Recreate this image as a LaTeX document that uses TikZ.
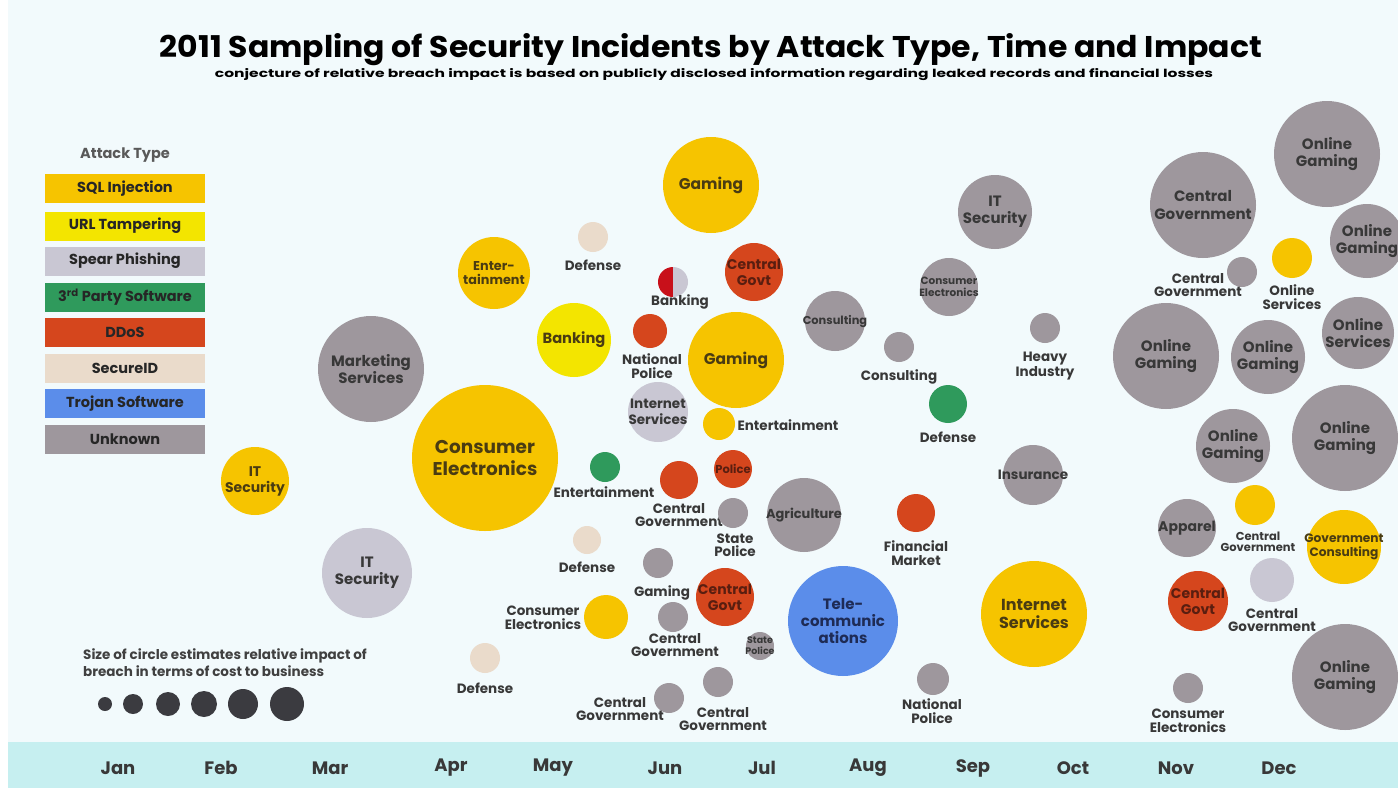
\documentclass[tikz,border=0pt]{standalone}
\usepackage{fontspec}
\setmainfont{Poppins}
\usepackage{graphicx}

\definecolor{bgc}{HTML}{F2FAFC}
\definecolor{barc}{HTML}{C6EFF0}
\definecolor{sqlc}{HTML}{F6C400}
\definecolor{urlc}{HTML}{F3E500}
\definecolor{spc}{HTML}{C9C7D3}
\definecolor{tpc}{HTML}{2F9A5C}
\definecolor{ddc}{HTML}{D5461D}
\definecolor{sidc}{HTML}{EADBCB}
\definecolor{trc}{HTML}{5B8DEA}
\definecolor{unc}{HTML}{9E979D}
\definecolor{bankred}{HTML}{C8101A}
\definecolor{dotc}{HTML}{3B3B40}
\definecolor{txt}{HTML}{383838}
\definecolor{sqtxt}{HTML}{4A3C12}
\definecolor{ddtxt}{HTML}{5A1E10}
\definecolor{trtxt}{HTML}{1E2B55}

\begin{document}
\begin{tikzpicture}[x=1pt,y=-1pt,
  bub/.style={circle, inner sep=0pt, outer sep=0pt},
  rad/.style={minimum size={2*#1}},
  sq/.style={bub, fill=sqlc},
  ur/.style={bub, fill=urlc},
  sp/.style={bub, fill=spc},
  tp/.style={bub, fill=tpc},
  dd/.style={bub, fill=ddc},
  sid/.style={bub, fill=sidc},
  tr/.style={bub, fill=trc},
  un/.style={bub, fill=unc},
  % outside labels (tight leading)
  lt/.style={align=center, inner sep=0pt, text=txt,
    font=\bfseries\linespread{1.0}\fontsize{#1}{#1}\selectfont},
  % text set inside a bubble
  bt/.style={align=center, inner sep=0pt, text=txt,
    font=\bfseries\linespread{1.15}\fontsize{#1}{#1}\selectfont},
  tsq/.style={text=sqtxt},
  tdd/.style={text=ddtxt},
  ttr/.style={text=trtxt},
  lgbox/.style={minimum width=160, minimum height=29, inner sep=0pt,
    text=black!85, font=\bfseries\fontsize{14.5}{14.5}\selectfont},
  month/.style={text=txt, font=\bfseries\fontsize{18}{18}\selectfont},
  dot/.style={circle, fill=dotc, inner sep=0pt, minimum size={2*#1}}
]
% canvas and timeline band
\fill[bgc] (0,0) rectangle (1398,788);
\useasboundingbox (0,0) rectangle (1398,788);
\clip (0,0) rectangle (1398,788);
\fill[white] (0,0) rectangle (8,788);
\fill[barc] (8,742) rectangle (1398,788);

% title block
\node[anchor=base, inner sep=0pt] (title) at (711,57)
  {\resizebox{1102pt}{24pt}{\bfseries 2011 Sampling of Security Incidents by Attack Type, Time and Impact}};
\node[anchor=base, inner sep=0pt] (subtitle) at (714,77)
  {\resizebox{998pt}{9pt}{\bfseries conjecture of relative breach impact is based on publicly disclosed information regarding leaked records and financial losses}};

% attack type legend
\node[text=black!65, font=\bfseries\fontsize{14.5}{14.5}\selectfont] (lgtitle) at (125,155) {Attack Type};
\node[lgbox, fill=sqlc] (lg1) at (125,188.5) {SQL Injection};
\node[lgbox, fill=urlc] (lg2) at (125,226) {URL Tampering};
\node[lgbox, fill=spc]  (lg3) at (125,261) {Spear Phishing};
\node[lgbox, fill=tpc]  (lg4) at (125,297) {3\textsuperscript{rd} Party Software};
\node[lgbox, fill=ddc]  (lg5) at (125,332.5) {DDoS};
\node[lgbox, fill=sidc] (lg6) at (125,368) {SecureID};
\node[lgbox, fill=trc]  (lg7) at (125,403.5) {Trojan Software};
\node[lgbox, fill=unc]  (lg8) at (125,439) {Unknown};

% size legend
\node[anchor=west, inner sep=0pt, text=black!75, align=left,
      font=\bfseries\fontsize{13.5}{17}\selectfont] (sizetxt) at (83,663)
  {Size of circle estimates relative impact of\\breach in terms of cost to business};
\node[dot=7]  (s1) at (105,704) {};
\node[dot=10] (s2) at (133,704) {};
\node[dot=12] (s3) at (168,704) {};
\node[dot=13] (s4) at (204,704) {};
\node[dot=15] (s5) at (243,704) {};
\node[dot=17] (s6) at (287,704) {};

% months
\node[month] (jan) at (118,768) {Jan};
\node[month] (feb) at (221,768) {Feb};
\node[month] (mar) at (330,768) {Mar};
\node[month] (apr) at (451,768) {Apr};
\node[month] (may) at (553,768) {May};
\node[month] (jun) at (665,768) {Jun};
\node[month] (jul) at (762,768) {Jul};
\node[month] (aug) at (868,768) {Aug};
\node[month] (sep) at (973,768) {Sep};
\node[month] (oct) at (1073,768) {Oct};
\node[month] (nov) at (1176,768) {Nov};
\node[month] (dec) at (1279,768) {Dec};

% ---- SQL injection
\node[sq, rad=34, label={[bt=14, tsq]center:{IT\\Security}}] (its1) at (255,481) {};
\node[sq, rad=73, label={[bt=18.5, tsq]center:{Consumer\\Electronics}}] (ce1) at (485,458) {};
\node[sq, rad=36, label={[bt=12.8, tsq]center:{Enter-\\tainment}}] (ent1) at (494,273) {};
\node[sq, rad=48, label={[bt=15.5, tsq]center:{Gaming}}] (gam1) at (711,185) {};
\node[sq, rad=48, label={[bt=15.5, tsq]center:{Gaming}}] (gam2) at (736,360) {};
\node[sq, rad=16] (ent2) at (719,424) {};
\node[lt=13.5] (ent2l) at (788,425) {Entertainment};
\node[sq, rad=22] (ce2) at (606,617) {};
\node[lt=13.5] (ce2l) at (543,618) {Consumer\\Electronics};
\node[sq, rad=53, label={[bt=16, tsq]center:{Internet\\Services}}] (is2) at (1034,614) {};
\node[sq, rad=20] (os1) at (1292,258) {};
\node[lt=13.5] (os1l) at (1292,297) {Online\\Services};
\node[sq, rad=20] (cgs) at (1255,505) {};
\node[lt=11.5] (cgsl) at (1258,542) {Central\\Government};
\node[sq, rad=37, label={[bt=12.2, tsq]center:{Government\\Consulting}}] (gc) at (1344,547) {};

% ---- URL tampering
\node[ur, rad=37, label={[bt=14.7, tsq]center:{Banking}}] (bank1) at (574,340) {};

% ---- spear phishing
\node[sp, rad=45, label={[bt=15]center:{IT\\Security}}] (its2) at (367,573) {};
\node[sp, rad=30, label={[bt=13.5]center:{Internet\\Services}}] (is1) at (658,412) {};
\node[sp, rad=22] (cgsp) at (1272,580) {};
\node[lt=13.5] (cgspl) at (1272,620) {Central\\Government};

% half DDoS / half spear phishing
\node[bub, rad=15] (bank2) at (673,282) {};
\fill[bankred] (bank2.south) arc (90:270:15) -- cycle;
\fill[spc] (bank2.north) arc (-90:90:15) -- cycle;
\node[lt=13.5] (bank2l) at (680,302) {Banking};

% ---- 3rd party software
\node[tp, rad=15] (ent3) at (605,467) {};
\node[lt=13.5] (ent3l) at (604,492) {Entertainment};
\node[tp, rad=19] (def3) at (948,404) {};
\node[lt=13.5] (def3l) at (948,437) {Defense};

% ---- DDoS
\node[dd, rad=29, label={[bt=14, tdd]center:{Central\\Govt}}] (cgv1) at (754,272) {};
\node[dd, rad=17] (np1) at (650,331) {};
\node[lt=13.5] (np1l) at (652,366) {National\\Police};
\node[dd, rad=19] (cg2) at (679,480) {};
\node[lt=13.5] (cg2l) at (679,515) {Central\\Government};
\node[dd, rad=19, label={[bt=11.5, tdd]center:{Police}}] (pol) at (733,469) {};
\node[dd, rad=29, label={[bt=14, tdd]center:{Central\\Govt}}] (cgv2) at (725,597) {};
\node[dd, rad=19] (fm) at (916,513) {};
\node[lt=13.5] (fml) at (916,553) {Financial\\Market};
\node[dd, rad=30, label={[bt=14, tdd]center:{Central\\Govt}}] (cgv3) at (1198,601) {};

% ---- SecureID
\node[sid, rad=15] (def1) at (593,237) {};
\node[lt=13.5] (def1l) at (593,265) {Defense};
\node[sid, rad=14] (def2) at (587,540) {};
\node[lt=13.5] (def2l) at (587,567) {Defense};
\node[sid, rad=15] (def4) at (485,658) {};
\node[lt=13.5] (def4l) at (485,688) {Defense};

% ---- trojan software
\node[tr, rad=55, label={[bt=15, ttr]center:{Tele-\\communic\\ations}}] (tel) at (843,621) {};

% ---- unknown
\node[un, rad=53, label={[bt=15]center:{Marketing\\Services}}] (mkt) at (371,369) {};
\node[un, rad=30, label={[bt=11.4]center:{Consulting}}] (con1) at (835,321) {};
\node[un, rad=15] (sp1) at (733,513) {};
\node[lt=13.5] (sp1l) at (735,545) {State\\Police};
\node[un, rad=37, label={[bt=13]center:{Agriculture}}] (agr) at (804,515) {};
\node[un, rad=15] (gm3) at (658,563) {};
\node[lt=13.5] (gm3l) at (662,593) {Gaming};
\node[un, rad=15] (cg3) at (673,617) {};
\node[lt=13.5] (cg3l) at (675,645) {Central\\Government};
\node[un, rad=14, label={[bt=9.5]center:{State\\Police}}] (sp2) at (760,646) {};
\node[un, rad=15] (cg4) at (669,698) {};
\node[lt=13.5] (cg4l) at (620,709) {Central\\Government};
\node[un, rad=15] (cg5) at (718,682) {};
\node[lt=13.5] (cg5l) at (723,719) {Central\\Government};
\node[un, rad=16] (np2) at (933,679) {};
\node[lt=13.5] (np2l) at (932,711) {National\\Police};
\node[un, rad=30, label={[bt=13.5]center:{Insurance}}] (ins) at (1033,475) {};
\node[un, rad=37, label={[bt=15]center:{IT\\Security}}] (its3) at (995,212) {};
\node[un, rad=29, label={[bt=10.5]center:{Consumer\\Electronics}}] (ce3) at (949,287) {};
\node[un, rad=15] (con2) at (899,347) {};
\node[lt=13.5] (con2l) at (899,377) {Consulting};
\node[un, rad=15] (hi) at (1045,328) {};
\node[lt=13.5] (hil) at (1045,366) {Heavy\\Industry};
\node[un, rad=53, label={[bt=15]center:{Online\\Gaming}}] (og1) at (1327,154) {};
\node[un, rad=53, label={[bt=15]center:{Central\\Government}}] (cg6) at (1203,205) {};
\node[un, rad=37, label={[bt=15]center:{Online\\Gaming}}] (og2) at (1367,241) {};
\node[un, rad=15] (cg7) at (1242,272) {};
\node[lt=13.5] (cg7l) at (1198,285) {Central\\Government};
\node[un, rad=53, label={[bt=15]center:{Online\\Gaming}}] (og3) at (1166,356) {};
\node[un, rad=37, label={[bt=15]center:{Online\\Gaming}}] (og4) at (1268,357) {};
\node[un, rad=36, label={[bt=15]center:{Online\\Services}}] (osv) at (1358,333) {};
\node[un, rad=53, label={[bt=15]center:{Online\\Gaming}}] (og5) at (1345,438) {};
\node[un, rad=37, label={[bt=15]center:{Online\\Gaming}}] (og6) at (1233,446) {};
\node[un, rad=29, label={[bt=14]center:{Apparel}}] (app) at (1187,528) {};
\node[un, rad=53, label={[bt=15]center:{Online\\Gaming}}] (og7) at (1345,677) {};
\node[un, rad=15] (ce4) at (1188,688) {};
\node[lt=13.5] (ce4l) at (1188,721) {Consumer\\Electronics};
\end{tikzpicture}
\end{document}
